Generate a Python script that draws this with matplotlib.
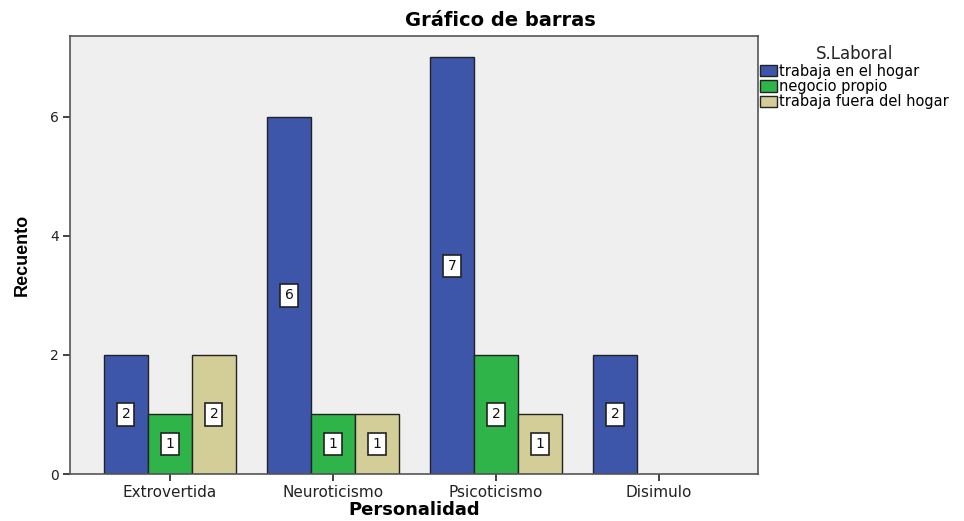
import matplotlib
matplotlib.use('Agg')
import matplotlib.pyplot as plt
from matplotlib.patches import Patch
import numpy as np

plt.rcParams['font.family'] = ['DejaVu Sans']

categories = ['Extrovertida', 'Neuroticismo', 'Psicoticismo', 'Disimulo']
series = ['trabaja en el hogar', 'negocio propio', 'trabaja fuera del hogar']
hogar = [2, 6, 7, 2]
negocio = [1, 1, 2, 0]
fuera = [2, 1, 1, 0]
colors = ['#3E56AA', '#2EB449', '#D3CE98']

fig = plt.figure(figsize=(9.64, 5.21), dpi=100)
ax = fig.add_axes([70 / 964, 1 - 474 / 521, (758 - 70) / 964, (474 - 36) / 521])
ax.set_facecolor('#EFEFEF')

x = np.arange(len(categories))
w = 0.27
for i, (vals, c) in enumerate(zip([hogar, negocio, fuera], colors)):
    for xi, v in zip(x, vals):
        if v <= 0:
            continue
        xp = xi + (i - 1) * w
        ax.bar(xp, v, width=w, color=c, edgecolor='#222222', linewidth=1.0, zorder=2)
        ax.text(xp, v / 2, str(v), ha='center', va='center', fontsize=10, zorder=3,
                color='#111111',
                bbox=dict(boxstyle='square,pad=0.3', fc='white', ec='#222222', lw=1.2))

ax.set_xlim(-0.613, 3.607)
ax.set_ylim(0, 7.36)
ax.set_yticks([0, 2, 4, 6])
ax.set_xticks(x)
ax.set_xticklabels(categories, fontsize=11, color='#222222')
ax.tick_params(axis='y', labelsize=10, length=5, width=1.2, colors='#222222', pad=3)
ax.tick_params(axis='x', length=5, width=1.2, colors='#222222', pad=3)
for s in ax.spines.values():
    s.set_color('#555555')
    s.set_linewidth(1.2)

fig.text(414 / 964, 1 - 510 / 521, 'Personalidad', ha='center', va='center',
         fontsize=13, fontweight='bold')
fig.text(22 / 964, 1 - 255 / 521, 'Recuento', ha='center', va='center', rotation=90,
         fontsize=13, fontweight='bold', family=['Liberation Sans', 'DejaVu Sans'])
fig.text(500 / 964, 1 - 21 / 521, 'Gráfico de barras', ha='center', va='center',
         fontsize=14, fontweight='bold')

handles = [Patch(facecolor=c, edgecolor='#222222', linewidth=1.0) for c in colors]
leg = fig.legend(handles, series, loc='upper left', bbox_to_anchor=(759 / 964, 1 - 44 / 521),
                 frameon=False, fontsize=10.5, title='S.Laboral', title_fontsize=12,
                 handlelength=1.1, handleheight=0.8, handletextpad=0.15, labelspacing=0.02,
                 borderaxespad=0, borderpad=0.1)
leg._legend_box.align = 'center'
leg.get_title().set_color('#222222')

fig.savefig('out.png', dpi=100, facecolor='white')
